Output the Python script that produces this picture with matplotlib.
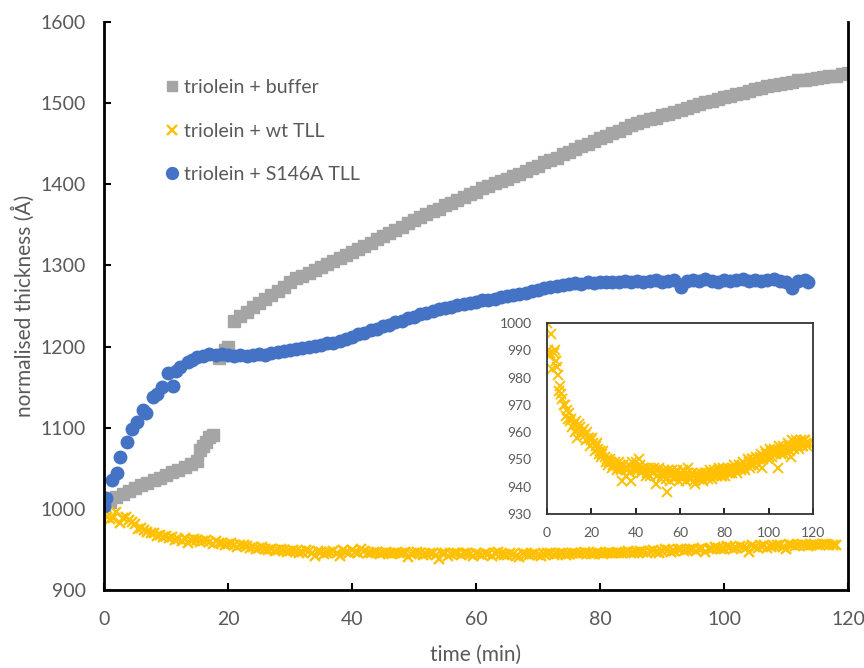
import numpy as np
import matplotlib
matplotlib.use("Agg")
import matplotlib.pyplot as plt

plt.rcParams['font.family'] = ['Lato', 'DejaVu Sans']
txt = '#595959'

# triolein + buffer (grey squares)
buf_t = [0, 1, 2, 3, 4, 5, 6, 7, 8, 9, 10, 11, 12, 13, 14, 15,
         15.5, 16, 16.5, 17, 17.5, 18.5, 19, 19.5, 20] + list(range(21, 121))
buf_y = [1005, 1009, 1014, 1018, 1022, 1026, 1029, 1032, 1035, 1038, 1042, 1045, 1048, 1051, 1055, 1059,
         1072, 1078, 1083, 1088, 1091, 1186, 1190, 1196, 1200,
         1232, 1238, 1243, 1249, 1254, 1259, 1264, 1269, 1274, 1280,
         1284, 1287, 1291, 1295, 1298, 1302, 1306, 1309, 1313, 1316, 1320,
         1324, 1328, 1332, 1336, 1340, 1344, 1348, 1352, 1356, 1360,
         1363, 1367, 1370, 1374, 1377, 1381, 1384, 1388, 1391, 1395, 1398,
         1401, 1404, 1407, 1410, 1413, 1416, 1420, 1423, 1427, 1430, 1433, 1437, 1440,
         1443, 1447, 1450, 1453, 1457, 1460, 1463, 1466, 1470, 1473,
         1475, 1478, 1480, 1482, 1485, 1487, 1489, 1492, 1494, 1497, 1499,
         1501, 1503, 1505, 1507, 1509, 1511, 1513, 1515, 1517, 1519, 1521,
         1522, 1524, 1525, 1526, 1528, 1529, 1530, 1531, 1532, 1533, 1534, 1536, 1537]

# triolein + wt TLL (yellow crosses), whole and half minutes
wt_t_a = list(range(0, 119))
wt_y_a = [1000, 988, 996, 989, 986, 981, 977, 972, 970, 968,
          967, 965, 963, 964, 961, 962, 960, 959, 960, 958,
          957, 956, 955, 954, 953, 952, 951, 950, 949, 949,
          948, 948, 947, 948, 942, 947, 946, 948, 942, 947,
          949, 946, 948, 946, 947, 945, 946, 946, 945, 941,
          946, 945, 944, 946, 938, 945, 944, 945, 945, 944,
          945, 943, 944, 945, 944, 943, 944, 941, 944, 944,
          943, 944, 945, 944, 945, 944, 945, 946, 945, 944,
          946, 945, 946, 946, 947, 946, 947, 947, 948, 947,
          948, 949, 948, 950, 949, 950, 951, 947, 951, 952,
          951, 953, 952, 953, 947, 953, 954, 952, 954, 955,
          951, 955, 956, 955, 956, 955, 957, 956, 956]
wt_t_b = [x + 0.5 for x in range(0, 118)]
wt_y_b = [990, 989, 983, 990, 984, 975, 974, 970, 966, 965,
          964, 962, 960, 958, 963, 959, 961, 957, 958, 955,
          958, 953, 956, 952, 951, 953, 949, 948, 950, 947,
          949, 946, 949, 946, 948, 944, 947, 945, 949, 946,
          947, 950, 945, 947, 944, 947, 944, 946, 947, 944,
          947, 943, 945, 943, 946, 942, 946, 943, 946, 942,
          944, 946, 942, 947, 943, 945, 942, 945, 943, 945,
          942, 945, 943, 946, 943, 946, 944, 947, 944, 947,
          944, 947, 945, 945, 948, 945, 948, 946, 949, 946,
          950, 947, 950, 948, 951, 948, 952, 950, 953, 950,
          954, 951, 954, 952, 955, 952, 955, 953, 956, 953,
          957, 954, 957, 954, 957, 955, 957, 955]
wt_t = wt_t_a + wt_t_b
wt_y = wt_y_a + wt_y_b

# triolein + S146A TLL (blue circles)
s146_t = [0, 0.3, 1.3, 2.1, 2.6, 3.7, 4.5, 5.3, 6.3, 6.8, 7.9, 8.6, 9.4, 10.3, 11.1, 11.6,
          12.3, 13.5, 14.2] + list(range(15, 114)) + [113.5]
s146_y = [1003, 1013, 1035, 1044, 1064, 1082, 1099, 1107, 1122, 1118, 1138, 1142, 1150, 1167, 1152, 1170,
          1175, 1181, 1184,
          1187, 1189, 1191, 1190, 1191, 1190, 1189, 1190, 1188, 1190,
          1191, 1190, 1192, 1193, 1195,
          1196, 1197, 1198, 1199, 1201, 1202, 1204, 1205, 1207, 1209,
          1212, 1215, 1217, 1220, 1222, 1225, 1227, 1230, 1232, 1235,
          1237, 1240, 1242, 1244, 1246, 1247, 1249, 1251, 1253, 1254,
          1255, 1257, 1258, 1259, 1261, 1262, 1263, 1265, 1266, 1268,
          1270, 1272, 1273, 1275, 1276, 1277, 1278, 1277, 1279, 1278,
          1279, 1280, 1279, 1280, 1281, 1280, 1281, 1280, 1281, 1282,
          1280, 1281, 1282, 1274, 1281, 1282, 1281, 1283, 1281, 1280,
          1282, 1281, 1282, 1283, 1281, 1282, 1281, 1282, 1283, 1281,
          1280, 1272, 1281, 1282, 1280]

grey = '#A5A5A5'
gold = '#FFC000'
blue = '#4472C4'

fig = plt.figure(figsize=(8.64, 6.68), dpi=100)
ax = fig.add_axes([0.1204, 0.1168, 0.8611, 0.8502])

ax.plot(buf_t, buf_y, ls='none', marker='s', ms=8.3, color=grey, mec=grey, label='triolein + buffer')
ax.plot(wt_t, wt_y, ls='none', marker='x', ms=7.5, mew=1.7, color=gold, label='triolein + wt TLL')
ax.plot(s146_t, s146_y, ls='none', marker='o', ms=9, color=blue, mec=blue, label='triolein + S146A TLL')

ax.set_xlim(0, 120)
ax.set_ylim(900, 1600)
ax.set_xticks(range(0, 121, 20))
ax.set_yticks(range(900, 1601, 100))
ax.spines['top'].set_visible(False)
for s in ['left', 'bottom', 'right']:
    ax.spines[s].set_linewidth(2)
ax.tick_params(direction='in', length=5, width=1.5, labelsize=14, labelcolor=txt)
ax.tick_params(axis='y', pad=13)
ax.tick_params(axis='x', pad=15)
ax.set_xlabel('time (min)', fontsize=15, color=txt, labelpad=12)
ax.set_ylabel('normalised thickness (Å)', fontsize=15, color=txt, labelpad=4)

leg = ax.legend(loc='upper left', bbox_to_anchor=(0.055, 0.93), frameon=False, fontsize=14,
                handletextpad=0.1, handlelength=1.0, labelspacing=1.35, markerscale=0.95)
for t in leg.get_texts():
    t.set_color(txt)

# inset
ins = fig.add_axes([0.633, 0.2305, 0.308, 0.286])
ins.plot(wt_t, wt_y, ls='none', marker='x', ms=7, mew=1.4, color=gold)
ins.set_xlim(0, 120)
ins.set_ylim(930, 1000)
ins.set_xticks(range(0, 121, 20))
ins.set_yticks(range(930, 1001, 10))
for s in ins.spines.values():
    s.set_linewidth(1.3)
    s.set_color('#333333')
ins.tick_params(axis='x', direction='in', length=4, width=1.2, labelsize=10, labelcolor=txt, pad=9)
ins.tick_params(axis='y', length=0, labelsize=10, labelcolor=txt, pad=11)

fig.savefig('out.png', dpi=100)
